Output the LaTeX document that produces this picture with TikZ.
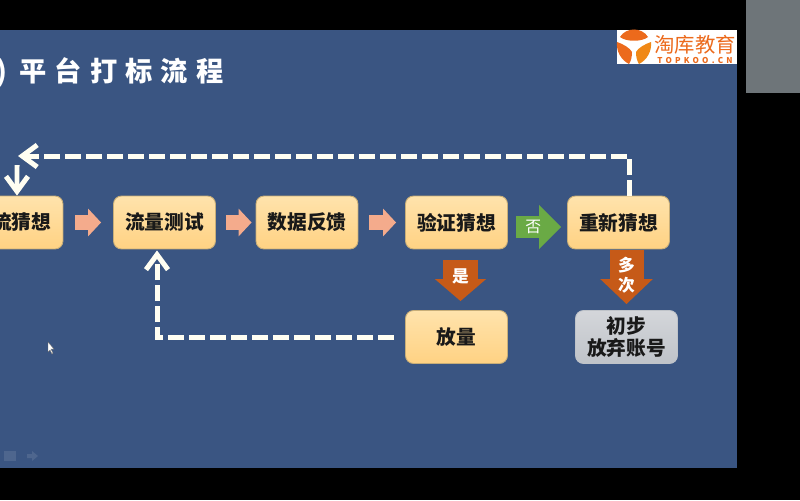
\documentclass[tikz,border=0pt]{standalone}
\usepackage{fontspec}
\usepackage{xcolor}
\usetikzlibrary{arrows.meta}
\setmainfont{Noto Sans CJK SC}
\definecolor{slideblue}{HTML}{3A5582}
\definecolor{boxtop}{HTML}{FFE3AC}
\definecolor{boxbottom}{HTML}{FFD283}
\definecolor{boxline}{HTML}{C8AE78}
\definecolor{graytop}{HTML}{D4D6DA}
\definecolor{graybottom}{HTML}{BFC3C9}
\definecolor{pinkarrow}{HTML}{F4AB8C}
\definecolor{greenarrow}{HTML}{6AAA45}
\definecolor{brownarrow}{HTML}{C65A18}
\definecolor{logoorange}{HTML}{EC6A1C}
\definecolor{webcam}{HTML}{6E7579}

\begin{document}
\begin{tikzpicture}[
    x=0.02cm,
    y=-0.02cm,
    stepbox/.style={
        rectangle, rounded corners=0.16cm, draw=boxline, line width=0.5pt,
        top color=boxtop, bottom color=boxbottom,
        minimum width=2.04cm, minimum height=1.06cm, inner sep=0pt,
        font=\fontsize{11.2pt}{13pt}\selectfont\bfseries, text=black!90
    },
    graybox/.style={
        stepbox, draw=graybottom, top color=graytop, bottom color=graybottom,
        align=center
    },
    pinkstep/.style={
        draw=pinkarrow, line width=0.3cm,
        -{Triangle[length=0.26cm,width=0.54cm]}
    },
    greenstep/.style={
        draw=greenarrow, line width=0.44cm,
        -{Triangle[length=0.44cm,width=0.86cm]},
        shorten <=0.16cm, shorten >=0.12cm
    },
    brownstep/.style={
        draw=brownarrow, line width=0.7cm,
        -{Triangle[length=0.44cm,width=1cm]}
    },
    loopline/.style={
        draw=white!95!yellow, line width=0.1cm, dash pattern=on 0.32cm off 0.1cm,
        -{Straight Barb[length=0.3cm,width=0.44cm]}
    },
    arrowtext/.style={
        inner sep=0pt, text=white, align=center,
        font=\fontsize{9.5pt}{11.5pt}\selectfont\bfseries
    }
]
\clip (0,0) rectangle (800,500);
\fill[black] (0,0) rectangle (800,500);
\fill[slideblue] (0,30) rectangle (737,468);
\fill[webcam] (746,0) rectangle (800,93);

% logo
\fill[white] (617,30) rectangle (737,64);
\fill[logoorange] (620,37) .. controls (626,27) and (642,27) .. (648,37)
    .. controls (642,42) and (626,42) .. (620,37);
\fill[logoorange] (617,42) .. controls (623,44) and (630,48) .. (632,52)
    .. controls (632,57) and (631,61) .. (629,64) .. controls (621,60) and (616,51) .. (617,42);
\fill[logoorange!80!yellow] (651,42) .. controls (645,44) and (638,48) .. (636,52)
    .. controls (636,57) and (637,61) .. (639,64) .. controls (647,60) and (652,51) .. (651,42);
\node[inner sep=0pt, text=logoorange, font=\fontsize{11.6pt}{13pt}\selectfont] (logotext) at (695,45) {淘库教育};
\node[inner sep=0pt, text=logoorange, font=\fontsize{4.6pt}{5pt}\selectfont\bfseries\addfontfeature{LetterSpace=40}] (logosite) at (695,60) {TOPKOO.CN};

% title
\node[anchor=west, inner sep=0pt, text=white,
    font=\fontsize{15.5pt}{17pt}\selectfont\bfseries\addfontfeature{LetterSpace=30}] (title) at (-4,72) {)\hspace{-1.3pt} 平台打标流程};

% steps
\node[stepbox] (guess) at (12,222.5) {\phantom{传}流猜想};
\node[stepbox] (test) at (164.5,222.5) {流量测试};
\node[stepbox] (feedback) at (307,222.5) {数据反馈};
\node[stepbox] (verify) at (456.5,222.5) {验证猜想};
\node[stepbox] (reguess) at (618.5,222.5) {重新猜想};
\node[stepbox] (volume) at (456.5,337) {放量};
\node[graybox] (giveup) at (626.5,337) {初步\\放弃账号};

% block arrows
\draw[pinkstep, shorten <=0.24cm, shorten >=0.24cm] (guess) -- (test);
\draw[pinkstep, shorten <=0.2cm, shorten >=0.08cm] (test) -- (feedback);
\draw[pinkstep, shorten <=0.22cm, shorten >=0.18cm] (feedback) -- (verify);
\draw[greenstep] ([yshift=-0.09cm]verify.east) -- ([yshift=-0.09cm]reguess.west)
    node[arrowtext, pos=0.43, font=\fontsize{9pt}{11pt}\selectfont] (nolabel) {否};
\draw[brownstep, shorten <=0.22cm, shorten >=0.18cm] ([xshift=0.08cm]verify.south) -- ([xshift=0.08cm]volume.north)
    node[arrowtext, pos=0.44] (yeslabel) {是};
\draw[brownstep, line width=0.68cm, shorten <=0.02cm, shorten >=0.12cm,
    -{Triangle[length=0.5cm,width=1.02cm]}] (giveup.north |- reguess.south) -- (giveup.north)
    node[arrowtext, pos=0.42] (manylabel) {多\\次};

% dashed loops
\coordinate (loopend) at (18,156);
\coordinate (guessin) at (17,165);
\draw[loopline] ([xshift=0.22cm]reguess.north) |- (loopend);
\draw[draw=white!95!yellow, line width=0.1cm, -{Straight Barb[length=0.3cm,width=0.44cm]}] (guessin) -- ([xshift=0.1cm]guess.north);
\draw[loopline, shorten <=0.22cm, shorten >=0.02cm] (volume.west) -| ([xshift=-0.15cm]test.south);

% cursor and slide controls
\fill[white, draw=black!60, line width=0.2pt] (48,342) -- (48,352) -- (50,350) -- (52,354) -- (53,353) -- (51,349) -- (54,349) -- cycle;
\fill[white, opacity=0.1] (4,451) rectangle (16,461);
\fill[white, opacity=0.1] (27,454) -- (32,454) -- (32,451) -- (38,456) -- (32,461) -- (32,458) -- (27,458) -- cycle;
\end{tikzpicture}
\end{document}
